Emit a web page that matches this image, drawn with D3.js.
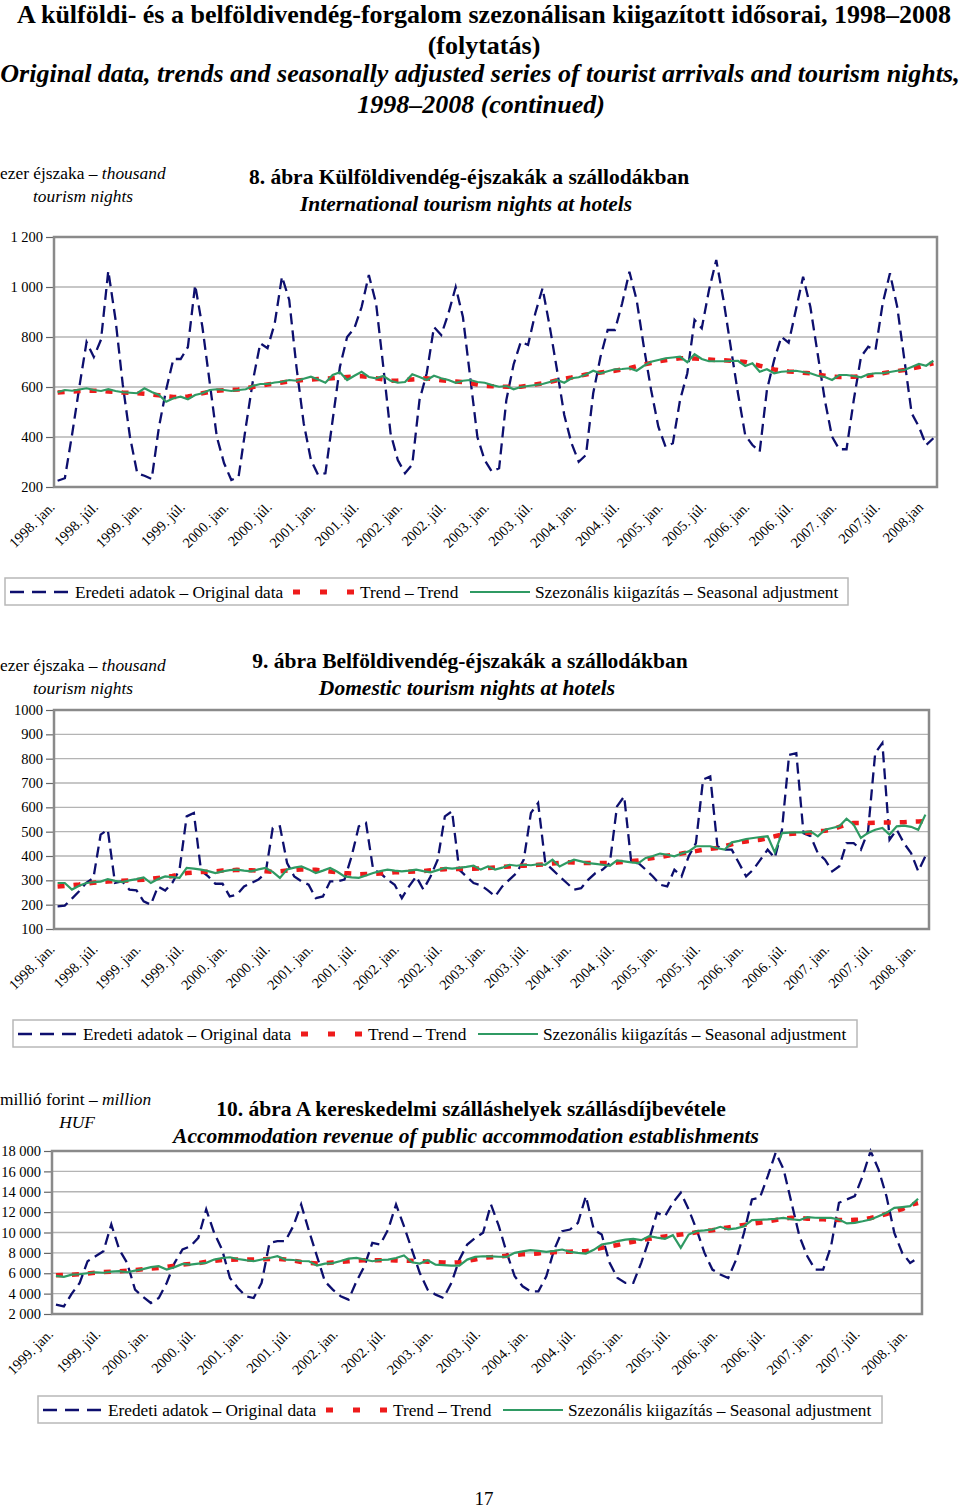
<!DOCTYPE html>
<html><head><meta charset="utf-8">
<script src="https://cdn.jsdelivr.net/npm/d3@7"></script>
<style>
body{margin:0;background:#fff}
svg{display:block}
text{font-family:"Liberation Serif","Times New Roman",serif;fill:#000}
</style>
</head><body>
<svg id="page" width="960" height="1509"></svg>
<script>
// ---------- DATA ----------
const seriesNames = ["Eredeti adatok – Original data","Trend – Trend","Szezonális kiigazítás – Seasonal adjustment"];

// Chart 8: International tourism nights at hotels (thousand), monthly 1998 jan – 2008 febr
const start8 = [1998, 0], count8 = 122;
const orig8 = [225,235,410,600,780,720,790,1065,870,610,400,255,
245,232,440,590,712,712,760,1008,841,621,400,295,
228,240,440,628,775,755,855,1042,948,680,455,308,
248,255,468,680,800,835,920,1048,935,680,415,308,
255,290,548,655,840,808,895,1000,880,640,400,308,
261,275,548,690,781,768,895,995,841,668,488,375,
301,328,575,720,828,828,935,1061,948,760,588,441,
361,375,548,655,868,835,988,1108,948,760,575,408,
368,341,588,708,801,777,908,1041,921,735,548,401,
351,351,548,721,761,748,935,1055,921,708,495,441,
368,395];
const trend8 = [578,580,582,584,585,585,585,582,580,578,577,575,
573,570,567,563,560,560,562,568,575,580,585,587,
589,590,595,600,605,610,614,618,622,625,628,630,
632,633,635,637,640,642,643,640,635,630,625,626,
628,630,632,635,631,627,624,622,620,615,610,605,
603,602,601,601,601,605,610,615,620,627,633,638,
644,650,654,658,662,665,670,675,683,690,696,702,
707,711,715,715,714,712,710,708,707,705,703,700,
693,685,678,670,666,662,660,657,655,650,645,642,
640,640,641,643,645,650,655,660,664,668,674,680,
688,695];
const sa8 = [579,588,585,590,595,588,584,591,584,579,577,575,
595,580,568,541,555,561,551,568,575,588,591,588,
584,588,591,605,612,612,618,621,628,625,633,641,
630,617,648,659,628,645,661,640,635,644,625,617,
620,651,640,628,645,635,628,617,625,628,620,617,
608,601,604,591,600,604,608,612,620,628,617,635,
639,650,665,655,663,671,672,675,665,685,701,708,
715,718,721,699,731,712,703,703,703,704,705,684,
695,661,671,655,661,663,665,660,655,645,640,628,
648,648,644,639,651,655,655,660,665,668,680,692,
685,705];
const yTicks8 = [200,400,600,800,1000,1200];
const yTickLabels8 = ["200","400","600","800","1 000","1 200"];
const xTickLabels8 = ["1998. jan.","1998. júl.","1999. jan.","1999. júl.","2000. jan.","2000. júl.","2001. jan.","2001. júl.","2002. jan.","2002. júl.","2003. jan.","2003. júl.","2004. jan.","2004. júl.","2005. jan.","2005. júl.","2006. jan.","2006. júl.","2007. jan.","2007.júl.","2008.jan"];

// Chart 9: Domestic tourism nights at hotels (thousand)
const start9 = [1998, 0], count9 = 122;
const orig9 = [193,196,225,255,290,310,488,508,290,296,262,259,
214,200,275,258,290,344,563,577,340,316,286,286,
234,241,275,289,303,330,515,522,371,316,296,282,
227,234,296,296,303,399,522,536,344,330,303,282,
227,275,316,262,316,385,563,584,344,316,289,280,
259,234,275,303,330,385,577,618,371,344,316,289,
262,268,303,330,344,371,604,645,371,371,344,316,
282,275,344,316,399,453,714,727,440,426,426,371,
316,344,385,426,392,508,816,823,494,481,412,385,
337,358,453,453,426,501,823,864,467,508,453,412,
337,399];
const trend9 = [275,277,280,283,287,290,293,295,297,298,300,301,
302,306,310,314,318,324,330,332,334,335,337,340,
341,343,342,341,340,337,335,337,340,343,345,344,
343,340,336,333,330,328,325,326,327,328,330,333,
334,335,336,338,341,344,346,347,347,348,348,349,
351,353,355,357,359,360,362,364,366,369,372,374,
373,372,371,371,371,371,373,376,379,382,387,392,
396,401,406,410,415,420,426,430,433,440,448,456,
460,464,467,474,481,488,490,492,494,497,501,504,
508,520,530,536,536,536,537,538,538,538,539,541,
542,543];
const sa9 = [289,289,262,278,289,292,295,305,298,293,300,305,
312,289,305,316,313,310,351,348,344,338,330,337,
342,344,340,337,345,351,335,310,345,352,357,345,
330,340,351,335,316,312,310,320,330,338,344,340,
337,340,344,338,333,342,351,348,351,355,360,344,
357,344,352,364,360,364,362,366,364,385,357,372,
385,378,371,368,364,360,382,378,374,371,392,400,
410,405,399,410,419,440,440,440,432,426,456,462,
470,474,478,481,415,494,496,497,497,501,481,508,
515,522,553,529,474,495,508,515,488,522,525,520,
508,570];
const yTicks9 = [100,200,300,400,500,600,700,800,900,1000];
const yTickLabels9 = ["100","200","300","400","500","600","700","800","900","1000"];
const xTickLabels9 = ["1998. jan.","1998. júl.","1999. jan.","1999. júl.","2000. jan.","2000. júl.","2001. jan.","2001. júl.","2002. jan.","2002. júl.","2003. jan.","2003. júl.","2004. jan.","2004. júl.","2005. jan.","2005. júl.","2006. jan.","2006. júl.","2007. jan.","2007. júl.","2008. jan."];

// Chart 10: Accommodation revenue (million HUF), monthly 1999 jan – 2008 febr
const start10 = [1999, 0], count10 = 110;
const orig10 = [2920,2750,4000,5050,7180,7670,8160,10790,8330,7020,4390,3700,
3080,3570,5050,7020,8330,8650,9470,12260,9970,8330,5540,4560,
3740,3570,5050,8980,9150,9150,10620,12750,10130,7670,5210,4390,
3740,3410,5210,6690,8980,8820,10290,12750,10620,8330,6030,4390,
3900,3570,5050,7340,8820,9470,9970,12750,10620,8000,5700,4720,
4230,4230,5700,8330,10130,10290,10950,13570,10290,9800,7020,5540,
5050,5050,7020,9310,11930,11600,12920,13900,12260,10290,8000,6360,
5870,5540,7340,9970,13250,13410,15540,17840,16200,12920,9640,7670,
6360,6360,8650,12920,13250,13570,15540,18000,16200,13570,9970,8000,
7020,7510];
const trend10 = [5800,5830,5860,5900,5980,6060,6120,6160,6200,6250,6320,6400,
6460,6520,6620,6750,6840,6920,7000,7120,7200,7300,7320,7340,
7340,7340,7370,7400,7410,7360,7250,7100,7020,6960,6980,7060,
7120,7180,7240,7270,7280,7280,7280,7260,7240,7220,7190,7140,
7100,7060,7020,7080,7200,7350,7510,7580,7650,7720,7800,7860,
7900,7950,8030,8070,8100,8120,8140,8160,8300,8500,8640,8780,
8950,9100,9230,9380,9500,9620,9700,9800,9900,10030,10120,10220,
10380,10500,10620,10750,10850,10960,11080,11220,11350,11440,11420,11360,
11320,11290,11260,11230,11210,11240,11280,11420,11620,11820,12050,12300,
12700,12900];
const sa10 = [5750,5640,5870,5900,6000,6100,6050,6160,6200,6100,6250,6400,
6600,6690,6360,6600,6920,6850,6950,7020,7340,7500,7570,7400,
7280,7180,7350,7500,7670,7340,7300,7200,7180,6750,6950,7000,
7200,7440,7510,7350,7180,7300,7340,7500,7740,7080,6950,7280,
6850,6800,6750,6750,7340,7600,7670,7650,7620,7600,8000,8150,
8260,8200,8100,8200,8330,8100,8000,7930,8300,8820,8950,9150,
9300,9380,9250,9640,9500,9380,9740,8490,9800,10130,10200,10290,
10560,10300,10400,10620,11210,11250,11280,11350,11440,11300,11210,11510,
11450,11440,11440,11280,10890,10950,11100,11280,11600,11930,12420,12500,
12590,13310];
const yTicks10 = [2000,4000,6000,8000,10000,12000,14000,16000,18000];
const yTickLabels10 = ["2 000","4 000","6 000","8 000","10 000","12 000","14 000","16 000","18 000"];
const xTickLabels10 = ["1999. jan.","1999. júl.","2000. jan.","2000. júl.","2001. jan.","2001. júl.","2002. jan.","2002. júl.","2003. jan.","2003. júl.","2004. jan.","2004. júl.","2005. jan.","2005. júl.","2006. jan.","2006. júl.","2007. jan.","2007. júl.","2008. jan."];

// ---------- DRAWING ----------
const C_ORIG = "#0d0f6e", C_TREND = "#ee1b1b", C_SA = "#2f9a63", C_FRAME = "#8a8a8a", C_GRID = "#b4b4b4";
const SERIF = '"Liberation Serif","Times New Roman",serif';
const svg = d3.select("#page");

function monthKeys(start, n) {
  const out = [];
  for (let k = 0; k < n; k++) {
    const m = start[1] + k;
    out.push((start[0] + Math.floor(m / 12)) + "-" + String(m % 12 + 1).padStart(2, "0"));
  }
  return out;
}

function txt(parent, s, x, y, size, opts) {
  opts = opts || {};
  return parent.append("text").attr("x", x).attr("y", y)
    .attr("text-anchor", opts.anchor || "start")
    .style("font-family", SERIF).style("font-size", size + "px")
    .style("font-weight", opts.weight || "normal").style("font-style", opts.style || "normal")
    .text(s);
}

// page title
txt(svg, "A külföldi- és a belföldivendég-forgalom szezonálisan kiigazított idősorai, 1998–2008", 484, 23, 26, {anchor: "middle", weight: "bold"});
txt(svg, "(folytatás)", 484, 54, 26, {anchor: "middle", weight: "bold"});
txt(svg, "Original data, trends and seasonally adjusted series of tourist arrivals and tourism nights,", 480, 82, 26, {anchor: "middle", weight: "bold", style: "italic"});
txt(svg, "1998–2008 (continued)", 481, 113, 26, {anchor: "middle", weight: "bold", style: "italic"});

function drawChart(o) {
  const g = svg.append("g");
  const cats = monthKeys(o.start, o.count);
  const x = d3.scaleBand().domain(cats).range([o.left, o.right]).paddingInner(0).paddingOuter(0);
  const px = i => x(cats[i]) + x.bandwidth() / 2;
  const y = d3.scaleLinear().domain([o.yTicks[0], o.yTicks[o.yTicks.length - 1]]).range([o.bottom, o.top]);

  // unit label
  const u = txt(g, o.unit1a, o.unitX, o.unitY, 17.4);
  u.append("tspan").style("font-style", "italic").text(o.unit1b);
  txt(g, o.unit2, o.unit2X, o.unitY + 23, 17.4, {anchor: "middle", style: "italic"});

  // titles
  txt(g, o.title, o.titleX, o.titleY, 21.5, {anchor: "middle", weight: "bold"});
  txt(g, o.subtitle, o.subX, o.titleY + 27, 21.5, {anchor: "middle", weight: "bold", style: "italic"});

  // grid
  g.append("g").selectAll("line").data(o.yTicks.slice(1, -1)).join("line")
    .attr("x1", o.left).attr("x2", o.right).attr("y1", d => y(d)).attr("y2", d => y(d))
    .attr("stroke", C_GRID).attr("stroke-width", 1.3);

  // y axis
  const ya = g.append("g").attr("transform", `translate(${o.left},0)`)
    .call(d3.axisLeft(y).tickValues(o.yTicks).tickSize(8).tickPadding(3)
      .tickFormat((d, i) => o.yTickLabels[i]));
  ya.select(".domain").remove();
  ya.selectAll(".tick line").attr("stroke", "#666").attr("stroke-width", 1.2);
  ya.selectAll(".tick text").style("font-family", SERIF).style("font-size", "14.5px").attr("fill", "#000");

  // x labels
  const xa = g.append("g").attr("transform", `translate(0,${o.bottom})`)
    .call(d3.axisBottom(x).tickValues(o.xTickLabels.map((_, k) => cats[k * 6])).tickSize(0)
      .tickFormat((d, k) => o.xTickLabels[k]));
  xa.select(".domain").remove();
  xa.selectAll(".tick text")
    .style("font-family", SERIF).style("font-size", "14.5px").attr("fill", "#000")
    .attr("text-anchor", "end").attr("dy", null).attr("y", 0)
    .attr("transform", "translate(-2,21) rotate(-45)");

  // series
  const line = d3.line().x((d, i) => px(i)).y(d => y(d));
  g.append("path").datum(o.orig).attr("d", line).attr("fill", "none")
    .attr("stroke", C_ORIG).attr("stroke-width", 2.3).attr("stroke-dasharray", "11,6");
  g.append("path").datum(o.trend).attr("d", line).attr("fill", "none")
    .attr("stroke", C_TREND).attr("stroke-width", 4.5).attr("stroke-dasharray", "7,9");
  g.append("path").datum(o.sa).attr("d", line).attr("fill", "none")
    .attr("stroke", C_SA).attr("stroke-width", 2.2);

  // frame
  g.append("rect").attr("x", o.left).attr("y", o.top).attr("width", o.right - o.left).attr("height", o.bottom - o.top)
    .attr("fill", "none").attr("stroke", C_FRAME).attr("stroke-width", 2.5);

  // legend
  const L = o.legend;
  const lg = g.append("g");
  lg.append("rect").attr("x", L.x).attr("y", L.y).attr("width", L.w).attr("height", 27)
    .attr("fill", "#fff").attr("stroke", "#b8b8b8").attr("stroke-width", 1.5);
  const cy = L.y + 14;
  const samples = [
    {x0: L.x + 5, len: 60, col: C_ORIG, w: 2.5, dash: "14,8", tx: L.x + 70},
    {x0: L.x + 288, len: 62, col: C_TREND, w: 5, dash: "7,20", tx: L.x + 355},
    {x0: L.x + 465, len: 60, col: C_SA, w: 2.2, dash: null, tx: L.x + 530}
  ];
  samples.forEach((s, k) => {
    lg.append("line").attr("x1", s.x0).attr("x2", s.x0 + s.len).attr("y1", cy).attr("y2", cy)
      .attr("stroke", s.col).attr("stroke-width", s.w).attr("stroke-dasharray", s.dash);
    txt(lg, seriesNames[k], s.tx, cy + 6, 17.3);
  });
}

drawChart({
  start: start8, count: count8, orig: orig8, trend: trend8, sa: sa8,
  yTicks: yTicks8, yTickLabels: yTickLabels8, xTickLabels: xTickLabels8,
  left: 54, right: 937, top: 237, bottom: 487,
  unit1a: "ezer éjszaka – ", unit1b: "thousand", unit2: "tourism nights", unitX: 0, unitY: 179, unit2X: 83,
  title: "8. ábra Külföldivendég-éjszakák a szállodákban", titleX: 469, titleY: 184,
  subtitle: "International tourism nights at hotels", subX: 466,
  legend: {x: 5, y: 578, w: 843}
});

drawChart({
  start: start9, count: count9, orig: orig9, trend: trend9, sa: sa9,
  yTicks: yTicks9, yTickLabels: yTickLabels9, xTickLabels: xTickLabels9,
  left: 54, right: 929, top: 710, bottom: 929,
  unit1a: "ezer éjszaka – ", unit1b: "thousand", unit2: "tourism nights", unitX: 0, unitY: 671, unit2X: 83,
  title: "9. ábra Belföldivendég-éjszakák a szállodákban", titleX: 470, titleY: 668,
  subtitle: "Domestic tourism nights at hotels", subX: 467,
  legend: {x: 13, y: 1020, w: 844}
});

drawChart({
  start: start10, count: count10, orig: orig10, trend: trend10, sa: sa10,
  yTicks: yTicks10, yTickLabels: yTickLabels10, xTickLabels: xTickLabels10,
  left: 52, right: 922, top: 1151, bottom: 1314,
  unit1a: "millió forint – ", unit1b: "million", unit2: "HUF", unitX: 0, unitY: 1105, unit2X: 77,
  title: "10. ábra A kereskedelmi szálláshelyek szállásdíjbevétele", titleX: 471, titleY: 1116,
  subtitle: "Accommodation revenue of public accommodation establishments", subX: 466,
  legend: {x: 38, y: 1396, w: 844}
});

txt(svg, "17", 484, 1505, 19, {anchor: "middle"});
</script>
</body></html>
